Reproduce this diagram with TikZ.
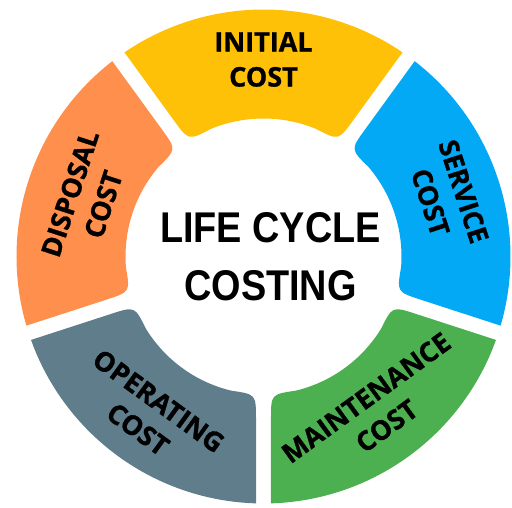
\documentclass[tikz,border=0pt]{standalone}
\usepackage{fontspec}
\setmainfont{Open Sans}[BoldFeatures={FakeBold=1}]
\newfontfamily\headfont{Liberation Sans}
\usetikzlibrary{calc}
\definecolor{initialcol}{HTML}{FFC107}
\definecolor{servicecol}{HTML}{03A9F4}
\definecolor{maintcol}{HTML}{4CAF50}
\definecolor{operatecol}{HTML}{607D8B}
\definecolor{disposecol}{HTML}{FF8F4C}
\tikzset{x=1pt, y=1pt,
    seglabel/.style={align=center, font=\fontsize{27}{35}\selectfont\bfseries},
    title/.style={align=center, xscale=0.88,
        font=\headfont\fontsize{43}{58}\selectfont\bfseries},
    }

\begin{document}
\begin{tikzpicture}
	\useasboundingbox (-263.5,-250.5) rectangle (248.5,256.5);
	% five ring blocks, outer radius 247, inner radius 138
	\foreach \t/\col/\n/\r/\d/\txt in {
		90/initialcol/initial/0/197/{INITIAL\\COST},
		18/servicecol/service/-72/193/{SERVICE\\COST},
		-54/maintcol/maintenance/36/192/{MAINTENANCE\\COST},
		-126/operatecol/operating/-36/196/{OPERATING\\COST},
		162/disposecol/disposal/72/186/{DISPOSAL\\COST}}
	{
		\pgfmathsetmacro\ao{\t-36+1.74}
		\pgfmathsetmacro\bo{\t+36-1.74}
		\pgfmathsetmacro\ai{\t-36+3.115}
		\pgfmathsetmacro\bi{\t+36-3.115}
		\pgfmathsetmacro\ac{\ai+10.4}
		\pgfmathsetmacro\bc{\bi-10.4}
		\fill[\col] (\ao:247) arc[start angle=\ao, end angle=\bo, radius=247]
			-- ($(\bi:138)!25pt!(\bo:247)$) .. controls (\bi:138) .. (\bc:138)
			arc[start angle=\bc, end angle=\ac, radius=138]
			.. controls (\ai:138) .. ($(\ai:138)!25pt!(\ao:247)$) -- cycle;
		\node[seglabel, rotate=\r] (\n) at (\t:\d) {\txt};
	}
	\node[title] (lcc) at (7,0) {LIFE CYCLE\\COSTING};
\end{tikzpicture}
\end{document}
